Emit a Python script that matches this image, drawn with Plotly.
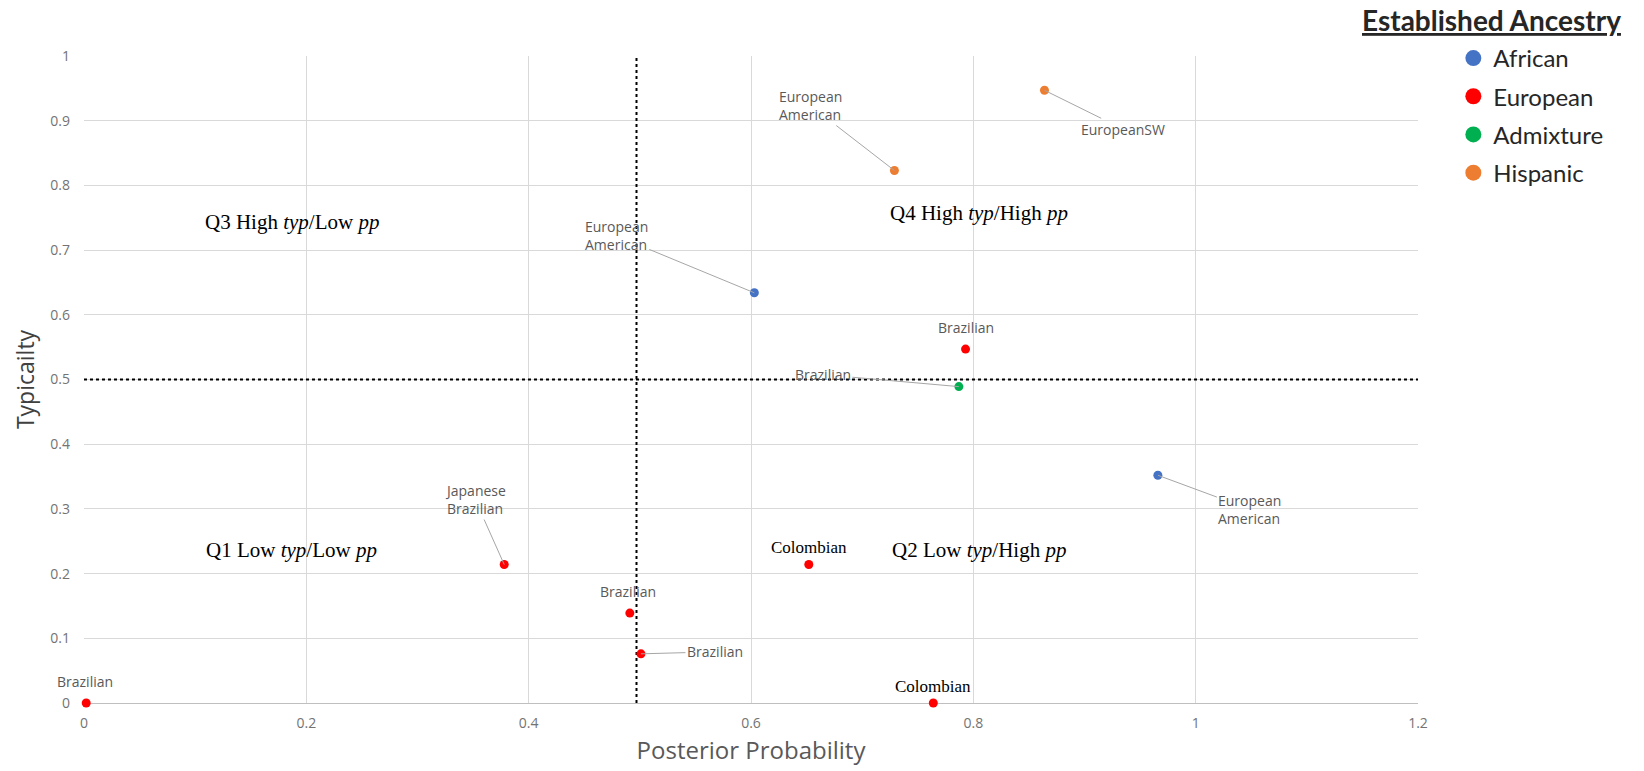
import plotly.graph_objects as go

# ---------------- data ----------------
CATEGORIES = ["African", "European", "Admixture", "Hispanic"]

AFRICAN_PP = [0.603, 0.966]
AFRICAN_TYP = [0.634, 0.352]
AFRICAN_LABELS = ["European<br>American", "European<br>American"]

EUROPEAN_PP = [0.793, 0.378, 0.491, 0.501, 0.002, 0.652, 0.764]
EUROPEAN_TYP = [0.547, 0.214, 0.139, 0.076, 0.0, 0.214, 0.0]
EUROPEAN_LABELS = ["Brazilian", "Japanese<br>Brazilian", "Brazilian", "Brazilian",
                   "Brazilian", "Colombian", "Colombian"]

ADMIXTURE_PP = [0.787]
ADMIXTURE_TYP = [0.489]
ADMIXTURE_LABELS = ["Brazilian"]

HISPANIC_PP = [0.729, 0.864]
HISPANIC_TYP = [0.823, 0.947]
HISPANIC_LABELS = ["European<br>American", "EuropeanSW"]

X_TICKS = [0, 0.2, 0.4, 0.6, 0.8, 1, 1.2]
X_TICK_LABELS = ["0", "0.2", "0.4", "0.6", "0.8", "1", "1.2"]
Y_TICKS = [0, 0.1, 0.2, 0.3, 0.4, 0.5, 0.6, 0.7, 0.8, 0.9, 1]
Y_TICK_LABELS = ["0", "0.1", "0.2", "0.3", "0.4", "0.5", "0.6", "0.7", "0.8", "0.9", "1"]

PP_THRESHOLD = 0.497
TYP_THRESHOLD = 0.5

QUADRANT_LABELS = ["Q1 Low <i>typ</i>/Low <i>pp</i>",
                   "Q2 Low <i>typ</i>/High <i>pp</i>",
                   "Q3 High <i>typ</i>/Low <i>pp</i>",
                   "Q4 High <i>typ</i>/High <i>pp</i>"]

X_TITLE = "Posterior Probability"
Y_TITLE = "Typicailty"
LEGEND_TITLE = "Established Ancestry"

# ---------------- styles / positions ----------------
COLORS = {"African": "#4472C4", "European": "#FF0000",
          "Admixture": "#00B050", "Hispanic": "#ED7D31"}

# per-label placement: (ax px, ay px, leader line, serif style)
LABEL_STYLE = {
    "African": [(-138, -57, True, False), (92, 34, True, False)],
    "European": [(0, -22, False, False), (-29, -65, True, False), (-2, -22, False, False),
                 (74, -2, True, False), (-1, -22, False, False),
                 (0, -17, False, True), (0, -17, False, True)],
    "Admixture": [(-136, -12, True, False)],
    "Hispanic": [(-84, -65, True, False), (79, 39, True, False)],
}
QUADRANT_POS = [(0.187, 0.2365), (0.805, 0.2365), (0.187, 0.743), (0.805, 0.757)]

SERIES = {
    "African": (AFRICAN_PP, AFRICAN_TYP, AFRICAN_LABELS),
    "European": (EUROPEAN_PP, EUROPEAN_TYP, EUROPEAN_LABELS),
    "Admixture": (ADMIXTURE_PP, ADMIXTURE_TYP, ADMIXTURE_LABELS),
    "Hispanic": (HISPANIC_PP, HISPANIC_TYP, HISPANIC_LABELS),
}

GRAY_TEXT = "#595959"
TICK_TEXT = "#737373"
GRID = "#d9d9d9"

fig = go.Figure()

# threshold lines (drawn first, beneath points)
fig.add_trace(go.Scatter(x=[PP_THRESHOLD, PP_THRESHOLD], y=[0, 1.01], mode="lines",
                         line=dict(color="black", width=2, dash="dot"),
                         showlegend=False, hoverinfo="skip", cliponaxis=False))
fig.add_trace(go.Scatter(x=[0, 1.2], y=[TYP_THRESHOLD, TYP_THRESHOLD], mode="lines",
                         line=dict(color="black", width=2, dash="dot"),
                         showlegend=False, hoverinfo="skip", cliponaxis=False))

annotations = []
for cat in CATEGORIES:
    xs, ys, labels = SERIES[cat]
    fig.add_trace(go.Scatter(x=xs, y=ys, mode="markers", name=cat,
                             marker=dict(color=COLORS[cat], size=9),
                             showlegend=False, cliponaxis=False))
    # legend proxy with larger symbol
    fig.add_trace(go.Scatter(x=[None], y=[None], mode="markers", name=cat,
                             legendgroup=cat,
                             marker=dict(color=COLORS[cat], size=17), showlegend=True))
    for (x, y, lab), (ax, ay, leader, serif) in zip(zip(xs, ys, labels), LABEL_STYLE[cat]):
        font = (dict(family="Liberation Serif", size=17, color="black") if serif
                else dict(family="Open Sans", size=14, color=GRAY_TEXT))
        if leader:
            annotations.append(dict(x=x, y=y, xref="x", yref="y", text=lab, showarrow=True,
                                    ax=ax, ay=ay, arrowhead=0, arrowwidth=1,
                                    arrowcolor="#a6a6a6", standoff=0, align="left",
                                    font=font))
        else:
            annotations.append(dict(x=x, y=y, xref="x", yref="y", text=lab, showarrow=False,
                                    xshift=ax, yshift=-ay, font=font))

for txt, (qx, qy) in zip(QUADRANT_LABELS, QUADRANT_POS):
    annotations.append(dict(x=qx, y=qy, xref="x", yref="y", text=txt, showarrow=False,
                            font=dict(family="Liberation Serif", size=21, color="black")))

annotations.append(dict(x=0.9565, y=1.056, xref="paper", yref="paper", xanchor="left",
                        yanchor="middle", showarrow=False,
                        text="<b><u>" + LEGEND_TITLE + "</u></b>",
                        font=dict(family="Lato", size=28, color="#262626")))

fig.update_layout(
    width=1644, height=771,
    margin=dict(l=84, r=226, t=56, b=68),
    paper_bgcolor="white", plot_bgcolor="white",
    annotations=annotations,
    showlegend=True,
    legend=dict(x=1.0265, y=1.031, xanchor="left", yanchor="top",
                font=dict(family="Lato", size=24, color="#262626"),
                tracegroupgap=4,
                itemsizing="trace", bgcolor="rgba(0,0,0,0)"),
    xaxis=dict(range=[0, 1.2], tickvals=X_TICKS, ticktext=X_TICK_LABELS,
               showgrid=True, gridcolor=GRID, gridwidth=1,
               zeroline=False, showline=False, ticks="", ticklabelstandoff=10,
               tickfont=dict(family="Open Sans", size=14, color=TICK_TEXT),
               title=dict(text=X_TITLE, standoff=11,
                          font=dict(family="Open Sans", size=24, color=GRAY_TEXT))),
    yaxis=dict(range=[0, 1], tickvals=Y_TICKS, ticktext=Y_TICK_LABELS,
               showgrid=True, gridcolor=GRID, gridwidth=1,
               zeroline=True, zerolinecolor="#bfbfbf", zerolinewidth=1,
               showline=False, ticks="", ticklabelstandoff=13,
               tickfont=dict(family="Open Sans", size=14, color=TICK_TEXT),
               title=dict(text=Y_TITLE, standoff=9,
                          font=dict(family="Open Sans", size=23, color="#404040"))),
)

fig.write_html("out.html", config={"displayModeBar": False},
               post_script="document.body.style.margin='0';")
